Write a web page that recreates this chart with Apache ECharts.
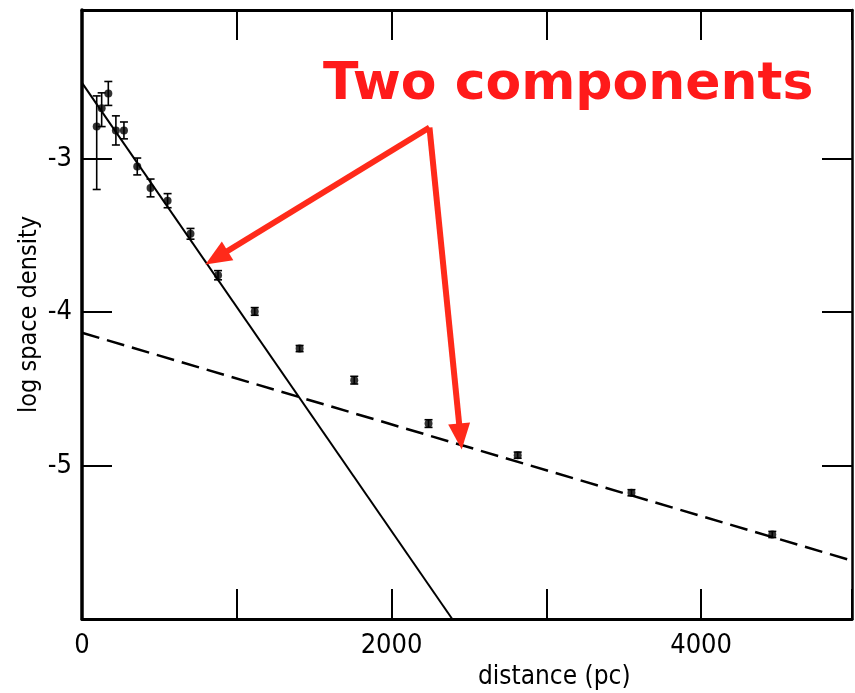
<!DOCTYPE html>
<html><head><meta charset="utf-8">
<script src="https://cdn.jsdelivr.net/npm/echarts@6/dist/echarts.min.js"></script>
<style>html,body{margin:0;padding:0;background:#fff}#c{width:855px;height:693px}</style>
</head><body><div id="c"></div>
<script>
// ---- data ----
const distance   = [95, 127, 170, 219, 271, 357, 443, 553, 701, 879, 1116, 1406, 1759, 2239, 2815, 3550, 4460];
const logDensity = [-2.79, -2.67, -2.574, -2.815, -2.815, -3.05, -3.19, -3.273, -3.489, -3.759, -3.995, -4.237, -4.443, -4.726, -4.932, -5.177, -5.449];
const errUp      = [0.20, 0.10, 0.078, 0.095, 0.055, 0.055, 0.058, 0.046, 0.035, 0.03, 0.025, 0.02, 0.025, 0.025, 0.02, 0.02, 0.02];
const errDown    = [0.41, 0.12, 0.078, 0.095, 0.055, 0.055, 0.058, 0.046, 0.035, 0.03, 0.025, 0.02, 0.025, 0.025, 0.02, 0.02, 0.02];
const thinDiskX  = [0, 2392];
const thinDiskY  = [-2.505, -6];
const thickDiskX = [0, 4975];
const thickDiskY = [-4.134, -5.62];
const xTickLabels = [0, 2000, 4000];
const yTickLabels = [-3, -4, -5];
const arrowFrom = [2245, -2.796];
const arrowTo1  = [869, -3.645];
const arrowTo2  = [2445, -4.81];
const titleText = 'Two components';

const FONT = '"Liberation Sans Narrow", "DejaVu Sans Condensed", "DejaVu Sans", sans-serif';
const chart = echarts.init(document.getElementById('c'), null, {renderer: 'canvas'});

const errData = distance.map((d, i) => [d, logDensity[i], errUp[i], errDown[i]]);
const pts = distance.map((d, i) => [d, logDensity[i]]);

function xAxisBase(pos, showLabel) {
  return {
    type: 'value', position: pos, min: 0, max: 4975, interval: 1000,
    splitLine: {show: false},
    axisLine: {show: true, onZero: false, lineStyle: {color: '#000', width: 3}},
    axisTick: {show: true, inside: true, length: 30, lineStyle: {color: '#000', width: 2}},
    axisLabel: {show: showLabel, margin: 13, color: '#000', fontSize: 27, fontFamily: FONT,
      formatter: v => xTickLabels.indexOf(v) >= 0 ? String(v) : ''}
  };
}
function yAxisBase(pos, showLabel) {
  return {
    type: 'value', position: pos, min: -6, max: -2.03, interval: 1,
    splitLine: {show: false},
    axisLine: {show: true, onZero: false, lineStyle: {color: '#000', width: pos === 'left' ? 3.5 : 2.5}},
    axisTick: {show: true, inside: true, length: 30, lineStyle: {color: '#000', width: 2}},
    axisLabel: {show: showLabel, margin: 10, color: '#000', fontSize: 27, fontFamily: FONT,
      formatter: v => yTickLabels.indexOf(Math.round(v)) >= 0 && Math.abs(v - Math.round(v)) < 1e-6 ? String(Math.round(v)) : ''}
  };
}

const yLeft = yAxisBase('left', true);
yLeft.name = 'log space density';
yLeft.nameLocation = 'middle';
yLeft.nameGap = 40;
yLeft.nameMoveOverlap = false;
yLeft.nameTextStyle = {color: '#000', fontSize: 25, fontFamily: FONT};

const option = {
  animation: false,
  backgroundColor: '#fff',
  title: {
    text: titleText, left: 318, top: 54,
    textStyle: {color: '#ff1a1a', fontSize: 52, fontWeight: 'bold', fontFamily: '"DejaVu Sans", sans-serif'}
  },
  grid: {left: 82, right: 2, top: 10, bottom: 74, containLabel: false},
  xAxis: [xAxisBase('bottom', true), xAxisBase('top', false)],
  yAxis: [yLeft, yAxisBase('right', false)],
  graphic: [{
    type: 'text', left: 478, top: 664,
    style: {text: 'distance (pc)', fill: '#000', font: '26px ' + FONT}
  }],
  series: [
    {
      type: 'line', name: 'thin', data: thinDiskX.map((x, i) => [x, thinDiskY[i]]),
      showSymbol: false, symbol: 'none', silent: true,
      lineStyle: {color: '#000', width: 2}
    },
    {
      type: 'line', name: 'thick', data: thickDiskX.map((x, i) => [x, thickDiskY[i]]),
      showSymbol: false, symbol: 'none', silent: true,
      lineStyle: {color: '#000', width: 2.5, type: [18, 8]}
    },
    {
      type: 'custom', name: 'err', data: errData, encode: {x: 0, y: 1}, silent: true,
      renderItem(params, api) {
        const x = api.value(0), y = api.value(1), up = api.value(2), dn = api.value(3);
        const t = api.coord([x, y + up]);
        const b = api.coord([x, y - dn]);
        const w = 4;
        const st = {stroke: '#000', lineWidth: 1.6};
        return {type: 'group', children: [
          {type: 'line', shape: {x1: t[0], y1: t[1], x2: b[0], y2: b[1]}, style: st},
          {type: 'line', shape: {x1: t[0] - w, y1: t[1], x2: t[0] + w, y2: t[1]}, style: st},
          {type: 'line', shape: {x1: b[0] - w, y1: b[1], x2: b[0] + w, y2: b[1]}, style: st}
        ]};
      }
    },
    {
      type: 'scatter', name: 'pts', data: pts, symbol: 'circle', symbolSize: 8, silent: true,
      itemStyle: {color: '#000'},
      markLine: {
        silent: true, animation: false,
        symbol: ['none', 'triangle'], symbolSize: [22, 26],
        label: {show: false},
        lineStyle: {color: '#ff2a1a', width: 6, type: 'solid'},
        emphasis: {disabled: true},
        data: [
          [{coord: arrowFrom}, {coord: arrowTo1}],
          [{coord: arrowFrom}, {coord: arrowTo2}]
        ]
      }
    }
  ]
};
chart.setOption(option);
</script>
</body></html>
